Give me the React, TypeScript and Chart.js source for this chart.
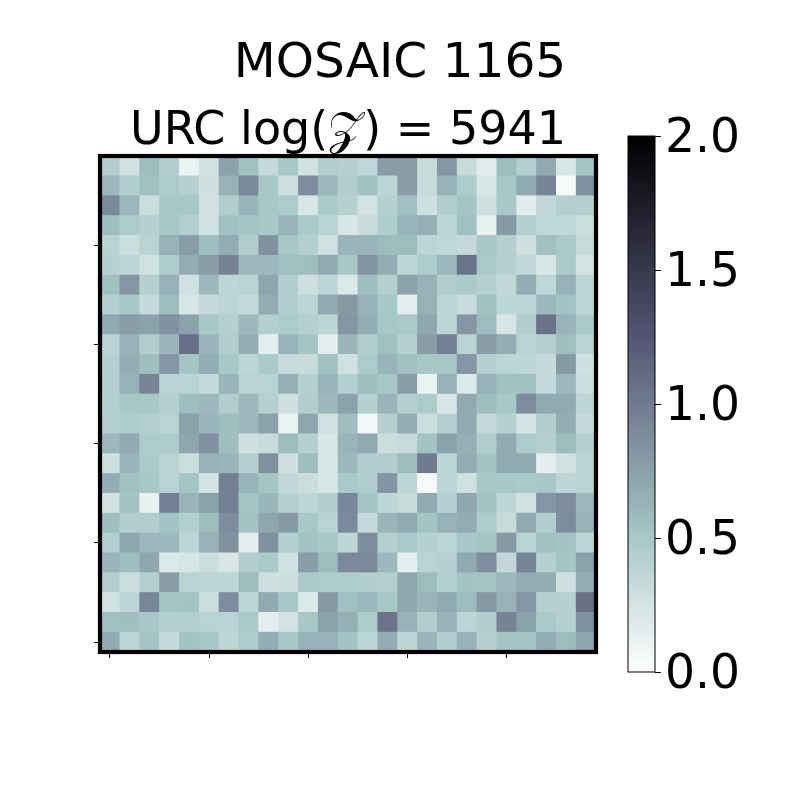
import React, { useEffect, useRef } from "react";
import { Chart, registerables } from "chart.js";

Chart.register(...registerables);

const columns = Array.from({ length: 25 }, (_, i) => String(i));
const titleText = "MOSAIC 1165";
const subtitleText = "URC log(𝒵) = 5941";
const colorbarTicks = [0, 0.5, 1, 1.5, 2];
const axisTicks = [0, 5, 10, 15, 20];

// Rows listed from the top of the picture (y = 24) to the bottom (y = 0)
const rowY24 = [.45,.27,.58,.45,.12,.27,.75,.55,.33,.5,.26,.45,.42,.36,.78,.78,.32,.82,.32,.17,.58,.43,.7,.22,.52];
const rowY23 = [.6,.45,.55,.47,.42,.28,.65,.9,.5,.28,.88,.6,.45,.55,.38,.78,.32,.65,.47,.22,.5,.7,.93,.05,.85];
const rowY22 = [.9,.6,.3,.5,.5,.27,.45,.63,.5,.47,.22,.48,.42,.25,.42,.55,.28,.45,.52,.28,.5,.18,.35,.43,.42];
const rowY21 = [.57,.47,.42,.5,.43,.27,.55,.52,.5,.63,.48,.4,.22,.32,.46,.63,.66,.38,.55,.14,.8,.42,.36,.36,.3];
const rowY20 = [.4,.3,.4,.65,.78,.57,.68,.45,.85,.5,.43,.27,.62,.63,.58,.58,.38,.36,.34,.5,.42,.28,.55,.48,.32];
const rowY19 = [.42,.37,.27,.47,.68,.78,.95,.6,.6,.55,.57,.7,.5,.83,.68,.38,.47,.6,1.05,.48,.42,.35,.22,.48,.25];
const rowY18 = [.55,.82,.42,.65,.27,.6,.37,.4,.73,.45,.28,.38,.2,.57,.43,.75,.65,.45,.48,.42,.35,.67,.36,.65,.38];
const rowY17 = [.42,.5,.33,.58,.23,.33,.38,.33,.68,.45,.38,.7,.8,.65,.5,.16,.65,.38,.32,.55,.37,.37,.6,.53,.38];
const rowY16 = [.7,.78,.75,.85,.75,.5,.42,.6,.43,.47,.42,.38,.82,.67,.5,.48,.72,.38,.82,.58,.23,.45,1.06,.63,.48];
const rowY15 = [.4,.65,.45,.62,1.07,.62,.45,.67,.15,.63,.52,.15,.62,.45,.55,.43,.78,.98,.4,.78,.67,.4,.42,.57,.4];
const rowY14 = [.42,.67,.57,.82,.52,.67,.5,.38,.48,.32,.32,.55,.27,.47,.63,.55,.5,.5,.82,.42,.38,.37,.33,.8,.28];
const rowY13 = [.43,.65,.93,.4,.4,.33,.62,.4,.4,.66,.42,.63,.42,.57,.5,.78,.12,.65,.2,.65,.55,.56,.33,.6,.3];
const rowY12 = [.42,.5,.5,.43,.57,.6,.45,.6,.42,.28,.45,.6,.75,.42,.63,.43,.47,.22,.7,.57,.5,.88,.7,.7,.38];
const rowY11 = [.43,.47,.43,.4,.75,.62,.57,.6,.75,.12,.72,.27,.57,.07,.42,.68,.3,.42,.7,.33,.42,.25,.45,.67,.33];
const rowY10 = [.6,.7,.47,.47,.72,.85,.57,.28,.32,.58,.42,.22,.62,.7,.3,.32,.53,.75,.66,.45,.7,.47,.43,.58,.43];
const rowY9 = [.28,.62,.48,.4,.3,.65,.62,.42,.85,.28,.57,.23,.6,.45,.45,.58,1.0,.38,.68,.53,.7,.7,.15,.27,.4];
const rowY8 = [.67,.55,.5,.4,.52,.25,.97,.63,.52,.35,.3,.22,.48,.45,.83,.38,.05,.38,.27,.5,.5,.48,.5,.37,.4];
const rowY7 = [.27,.53,.13,.97,.63,.75,.97,.52,.62,.43,.37,.45,.92,.52,.37,.32,.7,.43,.72,.53,.37,.27,.82,.88,.6];
const rowY6 = [.57,.45,.45,.53,.43,.57,.88,.53,.72,.8,.5,.4,.9,.33,.62,.7,.53,.65,.68,.47,.32,.7,.45,.88,.65];
const rowY5 = [.43,.72,.6,.6,.38,.65,.85,.15,.85,.43,.53,.5,.37,.88,.43,.48,.42,.38,.5,.52,.8,.4,.55,.53,.38];
const rowY4 = [.62,.57,.72,.2,.23,.3,.22,.45,.48,.27,.78,.58,.9,.9,.6,.15,.4,.42,.7,.87,.35,.93,.42,.52,.75];
const rowY3 = [.43,.3,.43,.78,.4,.37,.37,.58,.28,.3,.48,.47,.46,.45,.43,.72,.58,.43,.53,.52,.6,.67,.67,.28,.68];
const rowY2 = [.27,.38,.92,.52,.53,.3,.88,.37,.7,.5,.2,.8,.55,.6,.5,.72,.63,.7,.58,.8,.65,.82,.42,.42,1.07];
const rowY1 = [.55,.57,.5,.42,.43,.4,.4,.48,.15,.25,.5,.75,.66,.47,1.05,.65,.45,.65,.38,.45,.95,.75,.48,.42,.85];
const rowY0 = [.7,.37,.52,.33,.53,.5,.38,.47,.67,.5,.65,.65,.53,.38,.68,.37,.62,.45,.65,.42,.52,.52,.67,.58,.73];

const rows = [rowY0,rowY1,rowY2,rowY3,rowY4,rowY5,rowY6,rowY7,rowY8,rowY9,rowY10,rowY11,rowY12,rowY13,rowY14,rowY15,rowY16,rowY17,rowY18,rowY19,rowY20,rowY21,rowY22,rowY23,rowY24];

const FONT = "'DejaVu Sans', sans-serif";
const VMAX = 2;

function interp(x: number, pts: number[][]) {
  for (let i = 1; i < pts.length; i++) {
    if (x <= pts[i][0]) {
      const [a, va] = pts[i - 1];
      const [b, vb] = pts[i];
      return va + ((x - a) / (b - a)) * (vb - va);
    }
  }
  return pts[pts.length - 1][1];
}

// matplotlib's reversed "bone" colour map
function boneR(value: number) {
  const x = 1 - Math.min(Math.max(value / VMAX, 0), 1);
  const r = interp(x, [[0, 0], [0.746032, 0.652778], [1, 1]]);
  const g = interp(x, [[0, 0], [0.365079, 0.319444], [0.746032, 0.777778], [1, 1]]);
  const b = interp(x, [[0, 0], [0.365079, 0.444444], [1, 1]]);
  return `rgb(${Math.round(r * 255)},${Math.round(g * 255)},${Math.round(b * 255)})`;
}

const frame = (lineWidth: number) => ({
  id: "frame",
  afterDatasetsDraw(chart: any) {
    const { ctx, chartArea: a } = chart;
    ctx.save();
    ctx.strokeStyle = "#000";
    ctx.lineWidth = lineWidth;
    ctx.strokeRect(a.left, a.top, a.right - a.left, a.bottom - a.top);
    ctx.restore();
  },
});

export default function App() {
  const heatRef = useRef<HTMLCanvasElement>(null);
  const barRef = useRef<HTMLCanvasElement>(null);

  useEffect(() => {
    const heat = new Chart(heatRef.current!, {
      type: "bar",
      data: {
        labels: columns,
        datasets: rows.map((row, y) => ({
          data: row.map(() => [y - 0.5, y + 0.5]),
          backgroundColor: row.map(boneR),
          borderWidth: 0,
          barPercentage: 1,
          categoryPercentage: 1,
          grouped: false,
        })) as any,
      },
      options: {
        responsive: false,
        animation: false,
        layout: { padding: { left: 0, right: 0, top: 35.7, bottom: 148 } },
        plugins: {
          legend: { display: false },
          tooltip: { enabled: false },
          title: {
            display: true,
            text: titleText,
            color: "#000",
            font: { family: FONT, size: 48.6, weight: "normal", lineHeight: 1.2 },
            padding: 0,
          },
          subtitle: {
            display: true,
            text: subtitleText,
            color: "#000",
            fullSize: false,
            font: { family: FONT, size: 46, weight: "normal", lineHeight: 1 },
            padding: { top: 14.6, bottom: 1.4 },
          },
        },
        scales: {
          x: {
            type: "category",
            offset: true,
            afterFit(s: any) { s.height = 0; },
            ticks: { display: false, autoSkip: false },
            border: { display: false },
            grid: {
              offset: false,
              drawOnChartArea: false,
              tickLength: 6,
              tickWidth: 1,
              tickColor: (c: any) => (axisTicks.includes(c.index) ? "#000" : "rgba(0,0,0,0)"),
            },
          },
          y: {
            type: "linear",
            min: -0.5,
            max: 24.5,
            afterFit(s: any) { s.width = 100; },
            afterBuildTicks(s: any) { s.ticks = axisTicks.map((value) => ({ value })); },
            ticks: { display: false },
            border: { display: false },
            grid: { drawOnChartArea: false, tickLength: 6, tickWidth: 1, tickColor: "#000" },
          },
          spacer: {
            type: "linear",
            position: "right",
            afterFit(s: any) { s.width = 204; },
            ticks: { display: false },
            border: { display: false },
            grid: { display: false },
          },
        },
      } as any,
      plugins: [frame(4.2)],
    });

    const bar = new Chart(barRef.current!, {
      type: "bar",
      data: {
        labels: [""],
        datasets: [{
          data: [[0, VMAX]],
          borderWidth: 0,
          barPercentage: 1,
          categoryPercentage: 1,
          backgroundColor: (c: any) => {
            const a = c.chart.chartArea;
            if (!a) return "#888";
            const g = c.chart.ctx.createLinearGradient(0, a.bottom, 0, a.top);
            for (let i = 0; i <= 32; i++) g.addColorStop(i / 32, boneR((i / 32) * VMAX));
            return g;
          },
        }] as any,
      },
      options: {
        responsive: false,
        animation: false,
        layout: { padding: { left: 8, right: 0, top: 36, bottom: 128 } },
        plugins: { legend: { display: false }, tooltip: { enabled: false } },
        scales: {
          x: {
            offset: true,
            afterFit(s: any) { s.height = 0; },
            ticks: { display: false },
            border: { display: false },
            grid: { display: false },
          },
          y: {
            type: "linear",
            position: "right",
            min: 0,
            max: VMAX,
            afterFit(s: any) { s.width = 145; s.paddingTop = 0; s.paddingBottom = 0; },
            afterBuildTicks(s: any) { s.ticks = colorbarTicks.map((value) => ({ value })); },
            ticks: {
              color: "#000",
              padding: 4,
              labelOffset: 3.5,
              font: { family: FONT, size: 47.2 },
              callback: (v: any) => Number(v).toFixed(1),
            },
            border: { display: false },
            grid: { drawOnChartArea: false, tickLength: 6, tickWidth: 1, tickColor: "#000" },
          },
        },
      } as any,
      plugins: [frame(1)],
    });

    return () => { heat.destroy(); bar.destroy(); };
  }, []);

  return (
    <div style={{ position: "fixed", left: 0, top: 0, width: 800, height: 800, background: "#fff" }}>
      <canvas ref={heatRef} width={800} height={800} style={{ position: "absolute", left: 0, top: 0 }} />
      <canvas ref={barRef} width={180} height={700} style={{ position: "absolute", left: 620, top: 100 }} />
    </div>
  );
}
